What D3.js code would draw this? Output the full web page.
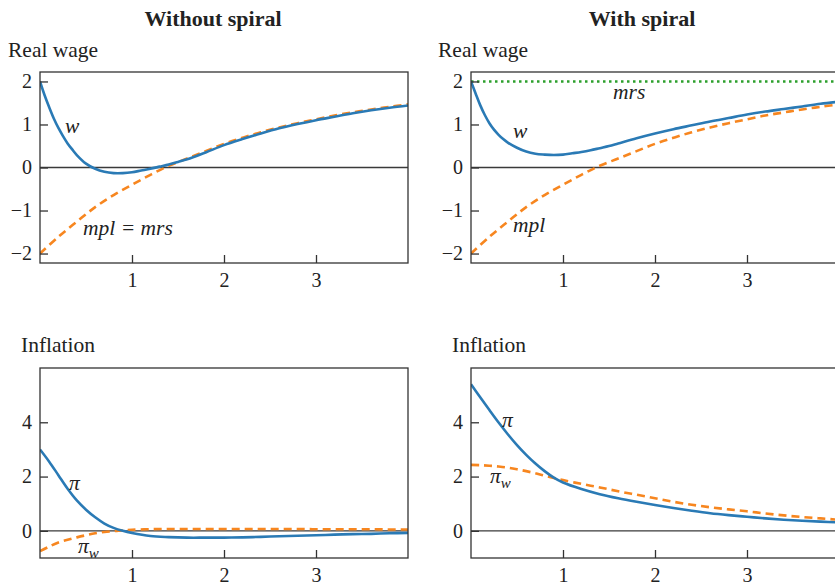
<!DOCTYPE html>
<html>
<head>
<meta charset="utf-8">
<script src="https://cdn.jsdelivr.net/npm/d3@7"></script>
<style>
  body { margin: 0; background: #fff; }
  svg { display: block; }
</style>
</head>
<body>
<div id="chart"></div>
<script>
// sample points
const tCoarse = [0, 0.2, 0.4, 0.6, 0.8, 1.0, 1.2, 1.4, 1.6, 1.8, 2.0, 2.2, 2.4, 2.6, 2.8, 3.0, 3.2, 3.4, 3.6, 3.8, 4.0];
const mpl = [-2, -1.61, -1.26, -0.92, -0.64, -0.40, -0.17, 0.04, 0.21, 0.38, 0.55, 0.69, 0.82, 0.93, 1.03, 1.12, 1.21, 1.28, 1.35, 1.41, 1.47];

const tFine = [0, 0.05, 0.1, 0.15, 0.2, 0.25, 0.3, 0.35, 0.4, 0.5, 0.6, 0.7, 0.8, 0.9, 1.0, 1.1, 1.2, 1.3, 1.4, 1.5, 1.6, 1.8, 2.0, 2.2, 2.4, 2.6, 2.8, 3.0, 3.2, 3.4, 3.6, 3.8, 4.0];
const wNoSpiral = [2.0, 1.68, 1.40, 1.14, 0.92, 0.73, 0.56, 0.42, 0.29, 0.09, -0.03, -0.10, -0.13, -0.13, -0.11, -0.07, -0.03, 0.02, 0.07, 0.13, 0.19, 0.35, 0.52, 0.66, 0.79, 0.91, 1.01, 1.10, 1.18, 1.26, 1.33, 1.39, 1.44];
const wSpiral = [2.0, 1.72, 1.45, 1.22, 1.03, 0.88, 0.76, 0.66, 0.58, 0.46, 0.37, 0.32, 0.30, 0.29, 0.30, 0.33, 0.36, 0.40, 0.45, 0.50, 0.56, 0.68, 0.79, 0.89, 0.98, 1.07, 1.15, 1.23, 1.30, 1.36, 1.42, 1.48, 1.53];
const mrs = [2, 2];
const tMrs = [0, 4];

const tInf = [0, 0.1, 0.2, 0.3, 0.4, 0.5, 0.6, 0.7, 0.8, 0.9, 1.0, 1.2, 1.4, 1.6, 1.8, 2.0, 2.2, 2.4, 2.6, 2.8, 3.0, 3.2, 3.4, 3.6, 3.8, 4.0];
const piNoSpiral = [3.0, 2.55, 2.05, 1.55, 1.12, 0.78, 0.50, 0.27, 0.11, 0.0, -0.08, -0.19, -0.23, -0.25, -0.25, -0.25, -0.24, -0.22, -0.20, -0.18, -0.16, -0.14, -0.12, -0.11, -0.09, -0.08];
const piWNoSpiral = [-0.75, -0.58, -0.43, -0.33, -0.24, -0.16, -0.09, -0.04, -0.01, 0.02, 0.04, 0.06, 0.07, 0.07, 0.07, 0.07, 0.07, 0.07, 0.07, 0.07, 0.06, 0.06, 0.06, 0.06, 0.05, 0.05];
const piSpiral = [5.4, 4.92, 4.45, 3.99, 3.56, 3.16, 2.80, 2.48, 2.20, 1.96, 1.78, 1.54, 1.35, 1.20, 1.07, 0.95, 0.84, 0.74, 0.65, 0.58, 0.52, 0.46, 0.41, 0.37, 0.34, 0.31];
const piWSpiral = [2.43, 2.42, 2.40, 2.37, 2.33, 2.27, 2.20, 2.12, 2.03, 1.95, 1.87, 1.73, 1.60, 1.46, 1.33, 1.20, 1.07, 0.96, 0.87, 0.79, 0.72, 0.64, 0.57, 0.51, 0.46, 0.41];

const xTicks = [1, 2, 3];
const wageTicks = [-2, -1, 0, 1, 2];
const inflTicks = [0, 2, 4];

const width = 835;
const height = 586;
const serif = '"Liberation Serif", "Times New Roman", Times, serif';
const blue = '#2a7ab5';
const orange = '#f7861f';
const green = '#2ca02c';

const svg = d3.select('#chart')
  .append('svg')
  .attr('width', width)
  .attr('height', height)
  .style('font-family', serif);

svg.append('rect').attr('width', width).attr('height', height).attr('fill', '#fff');

function zip(ts, vs) {
  return ts.map((t, i) => ({ t: t, v: vs[i] }));
}

function drawPanel(p) {
  const x = d3.scaleLinear().domain([0, 4]).range([p.left, p.left + 368]);
  const y = d3.scaleLinear().domain(p.yDomain).range([p.bottom, p.top]);
  const g = svg.append('g');

  const clipId = 'clip' + Math.round(p.left) + '_' + Math.round(p.top);
  svg.append('clipPath').attr('id', clipId)
    .append('rect')
    .attr('x', p.left).attr('y', p.top)
    .attr('width', 368).attr('height', p.bottom - p.top);

  // zero line
  g.append('line')
    .attr('x1', x(0)).attr('x2', x(4))
    .attr('y1', y(0)).attr('y2', y(0))
    .attr('stroke', '#3a3a3a').attr('stroke-width', 1.3);

  const line = d3.line()
    .x(d => x(d.t))
    .y(d => y(d.v))
    .curve(d3.curveCatmullRom.alpha(0.5));

  const lines = g.append('g').attr('clip-path', 'url(#' + clipId + ')');
  p.series.forEach(s => {
    lines.append('path')
      .attr('d', line(zip(s.t, s.v)))
      .attr('fill', 'none')
      .attr('stroke', s.color)
      .attr('stroke-width', s.width || 2.6)
      .attr('stroke-dasharray', s.dash || null);
  });

  // frame
  g.append('rect')
    .attr('x', p.left).attr('y', p.top)
    .attr('width', 368).attr('height', p.bottom - p.top)
    .attr('fill', 'none')
    .attr('stroke', '#333').attr('stroke-width', 1.3);

  const fmt = d3.format('d');
  const xAxis = g.append('g')
    .attr('transform', `translate(0,${p.bottom})`)
    .call(d3.axisBottom(x).tickValues(xTicks).tickFormat(fmt).tickSizeInner(-8).tickSizeOuter(0).tickPadding(11));
  const yAxis = g.append('g')
    .attr('transform', `translate(${p.left},0)`)
    .call(d3.axisLeft(y).tickValues(p.yTicks).tickFormat(fmt).tickSizeInner(-8).tickSizeOuter(0).tickPadding(8));

  [xAxis, yAxis].forEach(a => {
    a.attr('font-family', serif).attr('font-size', 20);
    a.select('.domain').remove();
    a.selectAll('line').attr('stroke', '#333').attr('stroke-width', 1.3);
    a.selectAll('text').attr('fill', '#222');
  });
  xAxis.selectAll('text').attr('dy', '0.71em').attr('y', 10);

  // panel label
  svg.append('text')
    .attr('x', p.labelX).attr('y', p.labelY)
    .attr('font-size', 21.5).attr('fill', '#222')
    .text(p.label);

  p.notes.forEach(n => {
    const t = svg.append('text')
      .attr('x', n.x).attr('y', n.y)
      .attr('font-size', 21.5)
      .attr('font-style', 'italic')
      .attr('fill', '#222')
      .text(n.text);
    if (n.sub) {
      t.append('tspan').attr('dy', 5).attr('font-size', 15).text(n.sub);
    }
  });
}

// column titles
svg.append('text').attr('x', 213).attr('y', 26).attr('text-anchor', 'middle')
  .attr('font-size', 22).attr('font-weight', 'bold').attr('fill', '#222').text('Without spiral');
svg.append('text').attr('x', 642).attr('y', 26).attr('text-anchor', 'middle')
  .attr('font-size', 22).attr('font-weight', 'bold').attr('fill', '#222').text('With spiral');

const dashed = '8,5';

drawPanel({
  left: 40, top: 72, bottom: 263, yDomain: [-2.22, 2.22], yTicks: wageTicks,
  label: 'Real wage', labelX: 8, labelY: 57,
  series: [
    { t: tCoarse, v: mpl, color: orange, dash: dashed },
    { t: tFine, v: wNoSpiral, color: blue }
  ],
  notes: [
    { x: 65, y: 133, text: 'w' },
    { x: 83, y: 235, text: 'mpl = mrs' }
  ]
});

drawPanel({
  left: 471, top: 72, bottom: 263, yDomain: [-2.22, 2.22], yTicks: wageTicks,
  label: 'Real wage', labelX: 438, labelY: 57,
  series: [
    { t: tMrs, v: mrs, color: green, dash: '2.5,3.5', width: 2.6 },
    { t: tCoarse, v: mpl, color: orange, dash: dashed },
    { t: tFine, v: wSpiral, color: blue }
  ],
  notes: [
    { x: 613, y: 99, text: 'mrs' },
    { x: 513, y: 138, text: 'w' },
    { x: 513, y: 232, text: 'mpl' }
  ]
});

drawPanel({
  left: 40, top: 368, bottom: 558, yDomain: [-1, 6], yTicks: inflTicks,
  label: 'Inflation', labelX: 21, labelY: 352,
  series: [
    { t: tInf, v: piWNoSpiral, color: orange, dash: dashed },
    { t: tInf, v: piNoSpiral, color: blue }
  ],
  notes: [
    { x: 69, y: 490, text: 'π' },
    { x: 78, y: 553, text: 'π', sub: 'w' }
  ]
});

drawPanel({
  left: 471, top: 368, bottom: 558, yDomain: [-1, 6], yTicks: inflTicks,
  label: 'Inflation', labelX: 452, labelY: 352,
  series: [
    { t: tInf, v: piWSpiral, color: orange, dash: dashed },
    { t: tInf, v: piSpiral, color: blue }
  ],
  notes: [
    { x: 502, y: 427, text: 'π' },
    { x: 490, y: 483, text: 'π', sub: 'w' }
  ]
});
</script>
</body>
</html>
